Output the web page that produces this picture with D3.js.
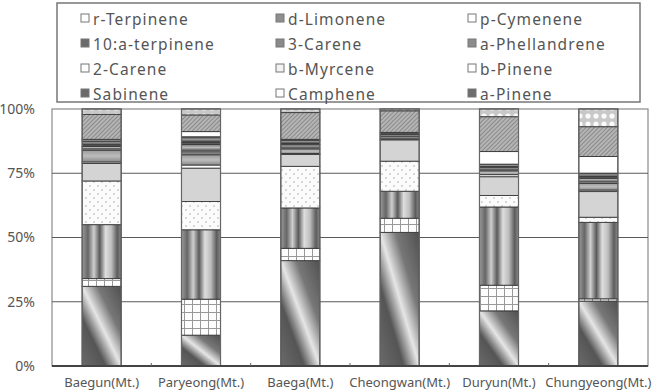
<!DOCTYPE html>
<html><head><meta charset="utf-8">
<script src="https://cdn.jsdelivr.net/npm/d3@7"></script>
<style>
html,body{margin:0;padding:0;background:#fff;overflow:hidden;}
svg{display:block;}
text{font-family:"Noto Sans",sans-serif;fill:#555;}
</style></head>
<body>
<svg id="c" width="655" height="392"></svg>
<script>
// ---- data ----
const categories = ["Baegun(Mt.)","Paryeong(Mt.)","Baega(Mt.)","Cheongwan(Mt.)","Duryun(Mt.)","Chungyeong(Mt.)"];
const seriesNames = ["a-Pinene","Camphene","Sabinene","b-Pinene","b-Myrcene","2-Carene","a-Phellandrene","3-Carene","10:a-terpinene","p-Cymenene","d-Limonene","r-Terpinene"];
const aPinene        = [31, 12, 41, 52, 21.5, 25.3];
const camphene       = [3, 14, 4.8, 5.5, 10, 0.9];
const sabinene       = [21, 27, 15.7, 10.5, 30.5, 29.8];
const bPinene        = [17, 11, 16.2, 11.7, 4.5, 2];
const bMyrcene       = [6.8, 13, 4.6, 8.3, 7.3, 10];
const carene2        = [0.6, 1.2, 0.4, 0.4, 0.8, 0.6];
const aPhellandrene  = [4.6, 4, 1.8, 0.8, 1.5, 2.6];
const carene3        = [1.4, 4, 1.6, 0.8, 1.2, 2];
const aTerpinene10   = [2.2, 3, 1.8, 0.6, 1.4, 2];
const pCymenene      = [0.6, 2, 0.3, 0.3, 4.9, 6.5];
const dLimonene      = [9.7, 6.5, 10.4, 8.4, 13.6, 11.6];
const rTerpinene     = [2.1, 2.3, 1.4, 0.7, 3, 6.9];
const seriesValues = [aPinene, camphene, sabinene, bPinene, bMyrcene, carene2, aPhellandrene, carene3, aTerpinene10, pCymenene, dLimonene, rTerpinene];
const legendOrder = ["r-Terpinene","d-Limonene","p-Cymenene","10:a-terpinene","3-Carene","a-Phellandrene","2-Carene","b-Myrcene","b-Pinene","Sabinene","Camphene","a-Pinene"];
const yTicks = [0, 0.25, 0.5, 0.75, 1];

// ---- build table ----
const table = categories.map((c, i) => {
  const row = {cat: c};
  seriesNames.forEach((s, j) => row[s] = seriesValues[j][i]);
  return row;
});
const stacked = d3.stack().keys(seriesNames).offset(d3.stackOffsetExpand)(table);

const svg = d3.select("#c");
const defs = svg.append("defs");

function lin(id, x1,y1,x2,y2, stops){
  const g = defs.append("linearGradient").attr("id", id)
    .attr("x1",x1).attr("y1",y1).attr("x2",x2).attr("y2",y2);
  stops.forEach(s => g.append("stop").attr("offset", s[0]).attr("stop-color", s[1]));
  return g;
}
lin("gDiag", 0, 1, 1, 0, [[0,"#6a6a6a"],[0.3,"#555"],[0.5,"#e6e6e6"],[0.7,"#777"],[1,"#505050"]]);
lin("gCyl", 0, 0, 1, 0, [[0,"#9a9a9a"],[0.15,"#666"],[0.3,"#cfcfcf"],[0.45,"#5a5a5a"],[0.6,"#dedede"],[0.75,"#bdbdbd"],[0.9,"#5c5c5c"],[1,"#8a8a8a"]]);
lin("gStripe1", 0, 0, 0, 1, [[0,"#777"],[0.3,"#bbb"],[0.6,"#555"],[1,"#999"]]);
lin("gStripe2", 0, 0, 0, 1, [[0,"#444"],[0.35,"#999"],[0.7,"#333"],[1,"#777"]]);
lin("gPhel", 0, 0, 0, 1, [[0,"#999"],[0.5,"#bdbdbd"],[1,"#8a8a8a"]]);

let p = defs.append("pattern").attr("id","pGrid").attr("patternUnits","userSpaceOnUse").attr("width",8).attr("height",8);
p.append("rect").attr("width",8).attr("height",8).attr("fill","#fdfdfd");
p.append("path").attr("d","M0 0.5H8M0.5 0V8").attr("stroke","#999").attr("stroke-width",1);
p = defs.append("pattern").attr("id","pDots").attr("patternUnits","userSpaceOnUse").attr("width",8).attr("height",8);
p.append("rect").attr("width",8).attr("height",8).attr("fill","#fbfbfb");
p.append("circle").attr("cx",2).attr("cy",2).attr("r",0.8).attr("fill","#aaa");
p.append("circle").attr("cx",6).attr("cy",6).attr("r",0.8).attr("fill","#aaa");
p = defs.append("pattern").attr("id","pHatch").attr("patternUnits","userSpaceOnUse").attr("width",3).attr("height",3).attr("patternTransform","rotate(45)");
p.append("rect").attr("width",3).attr("height",3).attr("fill","#b5b5b5");
p.append("line").attr("x1",0).attr("y1",0).attr("x2",0).attr("y2",3).attr("stroke","#777").attr("stroke-width",1.4);
p = defs.append("pattern").attr("id","pCirc").attr("patternUnits","userSpaceOnUse").attr("width",8).attr("height",8);
p.append("rect").attr("width",8).attr("height",8).attr("fill","#c8c8c8");
p.append("circle").attr("cx",4).attr("cy",4).attr("r",2.6).attr("fill","#fafafa");

const fills = {
  "a-Pinene":"url(#gDiag)", "Camphene":"url(#pGrid)", "Sabinene":"url(#gCyl)", "b-Pinene":"url(#pDots)",
  "b-Myrcene":"#d4d4d4", "2-Carene":"#ffffff", "a-Phellandrene":"url(#gPhel)", "3-Carene":"url(#gStripe1)",
  "10:a-terpinene":"url(#gStripe2)", "p-Cymenene":"#ffffff", "d-Limonene":"url(#pHatch)", "r-Terpinene":"url(#pCirc)"
};
const legendFills = {
  "a-Pinene":"#6d6d6d", "Camphene":"#fff", "Sabinene":"#6a6a6a", "b-Pinene":"#fff",
  "b-Myrcene":"#f2f2f2", "2-Carene":"#fff", "a-Phellandrene":"#8c8c8c", "3-Carene":"#8a8a8a",
  "10:a-terpinene":"#6a6a6a", "p-Cymenene":"#fff", "d-Limonene":"#8f8f8f", "r-Terpinene":"#fff"
};

// ---- scales ----
const plot = {l: 52, r: 648, t: 109, b: 366};
const x = d3.scaleBand().domain(categories).range([plot.l, plot.r]).paddingInner(0.607).paddingOuter(0.3035);
const y = d3.scaleLinear().domain([0, 1]).range([plot.b, plot.t]);

svg.append("rect").attr("x", plot.l).attr("y", plot.t).attr("width", plot.r - plot.l).attr("height", plot.b - plot.t)
  .attr("fill","#fff").attr("stroke","#8a8a8a").attr("stroke-width",1.2);

svg.append("g").selectAll("line").data(yTicks.filter(d => d > 0 && d < 1)).join("line")
  .attr("x1", plot.l).attr("x2", plot.r).attr("y1", d => y(d)).attr("y2", d => y(d))
  .attr("stroke","#5a5a5a").attr("stroke-width",1.2);

const yAxis = d3.axisLeft(y).tickValues(yTicks).tickFormat(d3.format(".0%")).tickSize(0).tickPadding(17);
const yg = svg.append("g").attr("transform", `translate(${plot.l},0)`).call(yAxis);
yg.select(".domain").remove();
yg.selectAll("text").attr("font-size", 14).attr("fill","#666").style("font-family","'Noto Sans',sans-serif");

const layers = svg.append("g").selectAll("g").data(stacked).join("g")
  .attr("fill", d => fills[d.key]);
layers.selectAll("rect").data(d => d.map((v, i) => ({v, cat: categories[i]}))).join("rect")
  .attr("x", d => x(d.cat)).attr("width", x.bandwidth())
  .attr("y", d => y(d.v[1])).attr("height", d => y(d.v[0]) - y(d.v[1]))
  .attr("stroke","#3a3a3a").attr("stroke-width",0.9);

svg.append("g").selectAll("rect").data(categories).join("rect")
  .attr("x", d => x(d)).attr("width", x.bandwidth()).attr("y", y(1)).attr("height", y(0) - y(1))
  .attr("fill","none").attr("stroke","#666").attr("stroke-width",1.2);

const xAxis = d3.axisBottom(x).tickSize(0).tickPadding(12);
const xg = svg.append("g").attr("transform", `translate(0,${plot.b})`).call(xAxis);
xg.select(".domain").attr("stroke","#444").attr("stroke-width",2).attr("d", `M${plot.l},0H${plot.r}`);
xg.selectAll("text").attr("font-size", 13).attr("fill","#555").style("font-family","'Noto Sans',sans-serif");
svg.append("g").selectAll("line").data(categories.slice(1)).join("line")
  .attr("x1", d => x(d) - (x.step() - x.bandwidth()) / 2)
  .attr("x2", d => x(d) - (x.step() - x.bandwidth()) / 2)
  .attr("y1", plot.b - 3).attr("y2", plot.b)
  .attr("stroke","#666").attr("stroke-width",1);

// legend
svg.append("rect").attr("x", 57).attr("y", 3).attr("width", 583).attr("height", 99)
  .attr("fill","#fff").attr("stroke","#777").attr("stroke-width",1.5);
const colX = [81, 276, 468];
const rowY = [20, 45, 70, 95];
const lg = svg.append("g").selectAll("g").data(legendOrder).join("g")
  .attr("transform", (d, i) => `translate(${colX[i % 3]},${rowY[Math.floor(i / 3)]})`);
lg.append("rect").attr("x", 0).attr("y", -6).attr("width", 8).attr("height", 8)
  .attr("fill", d => legendFills[d]).attr("stroke","#777").attr("stroke-width",1);
lg.append("text").attr("x", 12).attr("y", 0).attr("dy","0.35em").attr("font-size", 15.5)
  .attr("letter-spacing", "1.1px").attr("fill","#5a5a5a")
  .text(d => d);
</script>
</body></html>
